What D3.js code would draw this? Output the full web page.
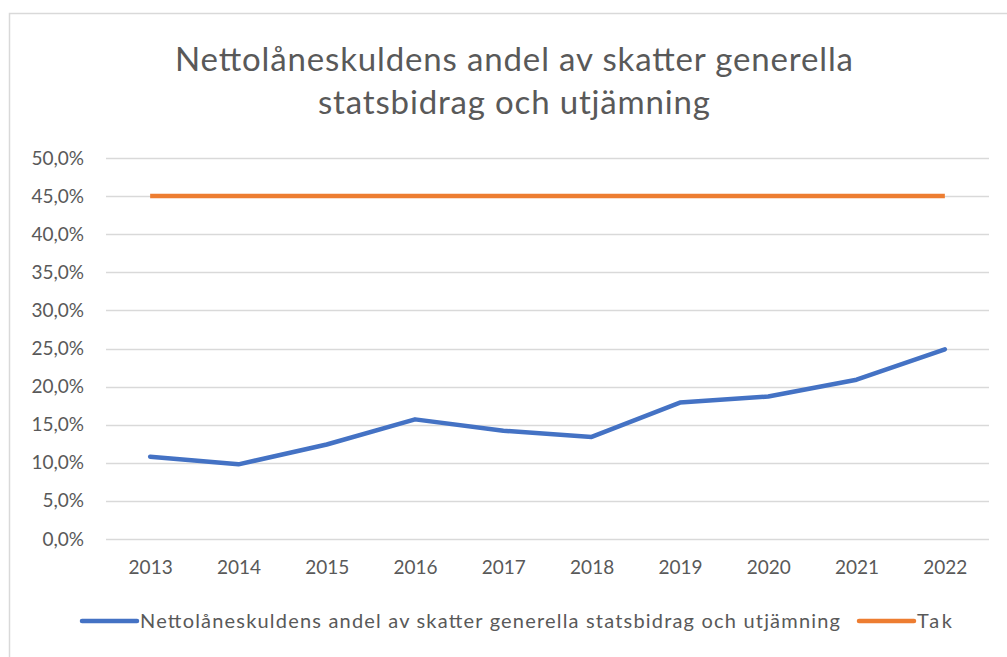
<!DOCTYPE html>
<html lang="sv">
<head>
    <meta charset="utf-8">
    <title>Nettolåneskuldens andel</title>
    <script type="text/javascript" src="https://d3js.org/d3.v7.min.js"></script>
    <style>
        body { margin: 0; background: #fff; }
        text { font-family: Lato, "Open Sans", sans-serif; fill: #595959; }
    </style>
</head>
<body>
    <div id="chart"></div>

    <script type="text/javascript">

        // Data
        var years = ["2013", "2014", "2015", "2016", "2017", "2018", "2019", "2020", "2021", "2022"];
        var andel = [0.108, 0.098, 0.124, 0.157, 0.142, 0.134, 0.179, 0.187, 0.209, 0.249];
        var tak = [0.45, 0.45, 0.45, 0.45, 0.45, 0.45, 0.45, 0.45, 0.45, 0.45];
        var yTicks = [0, 0.05, 0.1, 0.15, 0.2, 0.25, 0.3, 0.35, 0.4, 0.45, 0.5];
        var titleLines = ["Nettolåneskuldens andel av skatter generella", "statsbidrag och utjämning"];
        var seriesNames = ["Nettolåneskuldens andel av skatter generella statsbidrag och utjämning", "Tak"];

        var width = 1007;
        var height = 657;

        var svg = d3.select("#chart").append("svg")
            .attr("width", width)
            .attr("height", height);

        // chart border
        svg.append("rect")
            .attr("x", 9.5)
            .attr("y", 13.5)
            .attr("width", 1020)
            .attr("height", 700)
            .attr("fill", "#fff")
            .attr("stroke", "#d9d9d9")
            .attr("stroke-width", 1.5);

        // scales
        var x = d3.scalePoint()
            .domain(years)
            .range([106, 989])
            .padding(0.5);

        var y = d3.scaleLinear()
            .domain([0, 0.5])
            .range([539, 158]);

        var fmt = function(d) { return d3.format(".1f")(d * 100).replace(".", ",") + "%"; };

        // gridlines
        svg.append("g")
            .selectAll("line")
            .data(yTicks)
            .enter()
            .append("line")
            .attr("x1", 106)
            .attr("x2", 989)
            .attr("y1", function(d) { return Math.round(y(d)) + 0.5; })
            .attr("y2", function(d) { return Math.round(y(d)) + 0.5; })
            .attr("stroke", "#d9d9d9")
            .attr("stroke-width", 1.3);

        // y axis labels
        var yAxis = d3.axisLeft(y).tickValues(yTicks).tickFormat(fmt).tickSize(0).tickPadding(0);
        var gy = svg.append("g")
            .attr("transform", "translate(84,0)")
            .call(yAxis);
        gy.select(".domain").remove();
        gy.selectAll("text")
            .attr("fill", "#595959")
            .style("font-size", "19px")
            .style("font-family", "Lato, sans-serif");

        // x axis labels
        var xAxis = d3.axisBottom(x).tickSize(0).tickPadding(0);
        var gx = svg.append("g")
            .attr("transform", "translate(0,560)")
            .call(xAxis);
        gx.select(".domain").remove();
        gx.selectAll("text")
            .attr("fill", "#595959")
            .style("font-size", "19px")
            .style("font-family", "Lato, sans-serif");

        // lines
        var line = d3.line()
            .x(function(d, i) { return x(years[i]); })
            .y(function(d) { return y(d); });

        svg.append("path")
            .datum(tak)
            .attr("d", line)
            .attr("fill", "none")
            .attr("stroke", "#ed7d31")
            .attr("stroke-width", 4.5)
            .attr("stroke-linejoin", "round");

        svg.append("path")
            .datum(andel)
            .attr("d", line)
            .attr("fill", "none")
            .attr("stroke", "#4472c4")
            .attr("stroke-width", 4.5)
            .attr("stroke-linejoin", "round")
            .attr("stroke-linecap", "round");

        // title
        svg.append("g")
            .selectAll("text")
            .data(titleLines)
            .enter()
            .append("text")
            .attr("x", 514)
            .attr("y", function(d, i) { return 71 + i * 43; })
            .attr("text-anchor", "middle")
            .attr("textLength", function(d, i) { return i === 0 ? 678 : 392; })
            .style("font-size", "33px")
            .text(function(d) { return d; });

        // legend
        var legendColors = ["#4472c4", "#ed7d31"];
        var legendX = [82, 859];
        var legendLen = [700, 35];
        var legend = svg.append("g");

        legend.selectAll("line")
            .data(seriesNames)
            .enter()
            .append("line")
            .attr("x1", function(d, i) { return legendX[i]; })
            .attr("x2", function(d, i) { return legendX[i] + 55; })
            .attr("y1", 621)
            .attr("y2", 621)
            .attr("stroke", function(d, i) { return legendColors[i]; })
            .attr("stroke-width", 4.5)
            .attr("stroke-linecap", "round");

        legend.selectAll("text")
            .data(seriesNames)
            .enter()
            .append("text")
            .attr("x", function(d, i) { return legendX[i] + 58; })
            .attr("y", 628)
            .attr("textLength", function(d, i) { return legendLen[i]; })
            .style("font-size", "20px")
            .text(function(d) { return d; });

    </script>
</body>
</html>
